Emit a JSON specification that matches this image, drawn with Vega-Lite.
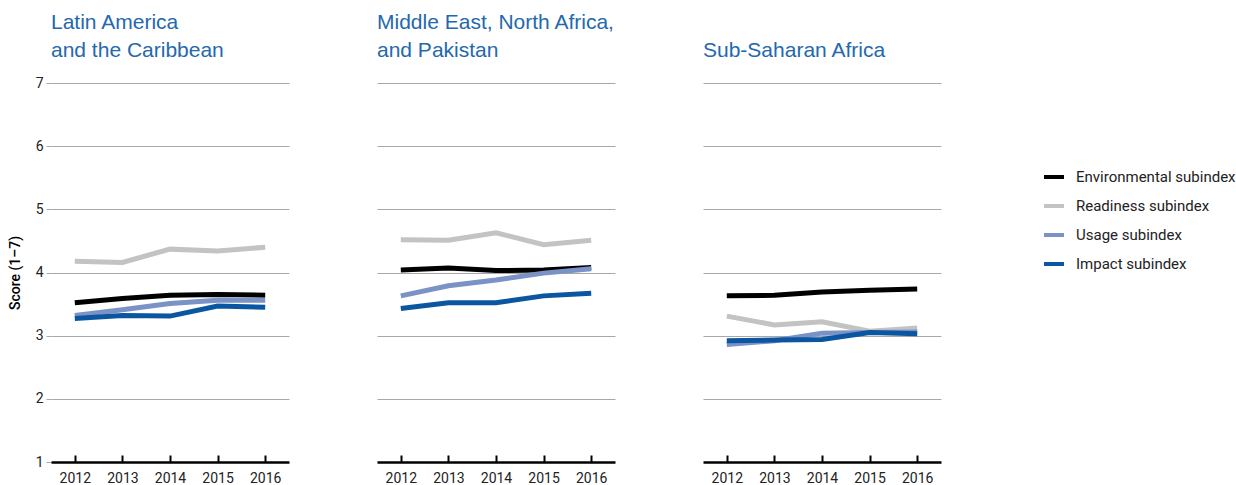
{
  "$schema": "https://vega.github.io/schema/vega-lite/v6.json",
  "padding": {"left": 8, "top": 12, "right": 5, "bottom": 2},
  "config": {
    "view": {"stroke": null},
    "font": "Roboto",
    "facet": {"spacing": 88}
  },
  "data": {
    "values": [
      {"region": "Latin America|and the Caribbean", "series": "Environmental subindex", "year": "2012", "value": 3.52},
      {"region": "Latin America|and the Caribbean", "series": "Environmental subindex", "year": "2013", "value": 3.59},
      {"region": "Latin America|and the Caribbean", "series": "Environmental subindex", "year": "2014", "value": 3.64},
      {"region": "Latin America|and the Caribbean", "series": "Environmental subindex", "year": "2015", "value": 3.65},
      {"region": "Latin America|and the Caribbean", "series": "Environmental subindex", "year": "2016", "value": 3.64},
      {"region": "Latin America|and the Caribbean", "series": "Readiness subindex", "year": "2012", "value": 4.18},
      {"region": "Latin America|and the Caribbean", "series": "Readiness subindex", "year": "2013", "value": 4.16},
      {"region": "Latin America|and the Caribbean", "series": "Readiness subindex", "year": "2014", "value": 4.37},
      {"region": "Latin America|and the Caribbean", "series": "Readiness subindex", "year": "2015", "value": 4.34},
      {"region": "Latin America|and the Caribbean", "series": "Readiness subindex", "year": "2016", "value": 4.40},
      {"region": "Latin America|and the Caribbean", "series": "Usage subindex", "year": "2012", "value": 3.32},
      {"region": "Latin America|and the Caribbean", "series": "Usage subindex", "year": "2013", "value": 3.41},
      {"region": "Latin America|and the Caribbean", "series": "Usage subindex", "year": "2014", "value": 3.51},
      {"region": "Latin America|and the Caribbean", "series": "Usage subindex", "year": "2015", "value": 3.56},
      {"region": "Latin America|and the Caribbean", "series": "Usage subindex", "year": "2016", "value": 3.56},
      {"region": "Latin America|and the Caribbean", "series": "Impact subindex", "year": "2012", "value": 3.27},
      {"region": "Latin America|and the Caribbean", "series": "Impact subindex", "year": "2013", "value": 3.32},
      {"region": "Latin America|and the Caribbean", "series": "Impact subindex", "year": "2014", "value": 3.31},
      {"region": "Latin America|and the Caribbean", "series": "Impact subindex", "year": "2015", "value": 3.47},
      {"region": "Latin America|and the Caribbean", "series": "Impact subindex", "year": "2016", "value": 3.45},
      {"region": "Middle East, North Africa,|and Pakistan", "series": "Environmental subindex", "year": "2012", "value": 4.04},
      {"region": "Middle East, North Africa,|and Pakistan", "series": "Environmental subindex", "year": "2013", "value": 4.07},
      {"region": "Middle East, North Africa,|and Pakistan", "series": "Environmental subindex", "year": "2014", "value": 4.03},
      {"region": "Middle East, North Africa,|and Pakistan", "series": "Environmental subindex", "year": "2015", "value": 4.04},
      {"region": "Middle East, North Africa,|and Pakistan", "series": "Environmental subindex", "year": "2016", "value": 4.08},
      {"region": "Middle East, North Africa,|and Pakistan", "series": "Readiness subindex", "year": "2012", "value": 4.52},
      {"region": "Middle East, North Africa,|and Pakistan", "series": "Readiness subindex", "year": "2013", "value": 4.51},
      {"region": "Middle East, North Africa,|and Pakistan", "series": "Readiness subindex", "year": "2014", "value": 4.63},
      {"region": "Middle East, North Africa,|and Pakistan", "series": "Readiness subindex", "year": "2015", "value": 4.44},
      {"region": "Middle East, North Africa,|and Pakistan", "series": "Readiness subindex", "year": "2016", "value": 4.51},
      {"region": "Middle East, North Africa,|and Pakistan", "series": "Usage subindex", "year": "2012", "value": 3.63},
      {"region": "Middle East, North Africa,|and Pakistan", "series": "Usage subindex", "year": "2013", "value": 3.79},
      {"region": "Middle East, North Africa,|and Pakistan", "series": "Usage subindex", "year": "2014", "value": 3.88},
      {"region": "Middle East, North Africa,|and Pakistan", "series": "Usage subindex", "year": "2015", "value": 3.99},
      {"region": "Middle East, North Africa,|and Pakistan", "series": "Usage subindex", "year": "2016", "value": 4.06},
      {"region": "Middle East, North Africa,|and Pakistan", "series": "Impact subindex", "year": "2012", "value": 3.43},
      {"region": "Middle East, North Africa,|and Pakistan", "series": "Impact subindex", "year": "2013", "value": 3.52},
      {"region": "Middle East, North Africa,|and Pakistan", "series": "Impact subindex", "year": "2014", "value": 3.52},
      {"region": "Middle East, North Africa,|and Pakistan", "series": "Impact subindex", "year": "2015", "value": 3.63},
      {"region": "Middle East, North Africa,|and Pakistan", "series": "Impact subindex", "year": "2016", "value": 3.67},
      {"region": "Sub-Saharan Africa", "series": "Environmental subindex", "year": "2012", "value": 3.63},
      {"region": "Sub-Saharan Africa", "series": "Environmental subindex", "year": "2013", "value": 3.64},
      {"region": "Sub-Saharan Africa", "series": "Environmental subindex", "year": "2014", "value": 3.69},
      {"region": "Sub-Saharan Africa", "series": "Environmental subindex", "year": "2015", "value": 3.72},
      {"region": "Sub-Saharan Africa", "series": "Environmental subindex", "year": "2016", "value": 3.74},
      {"region": "Sub-Saharan Africa", "series": "Readiness subindex", "year": "2012", "value": 3.31},
      {"region": "Sub-Saharan Africa", "series": "Readiness subindex", "year": "2013", "value": 3.17},
      {"region": "Sub-Saharan Africa", "series": "Readiness subindex", "year": "2014", "value": 3.22},
      {"region": "Sub-Saharan Africa", "series": "Readiness subindex", "year": "2015", "value": 3.07},
      {"region": "Sub-Saharan Africa", "series": "Readiness subindex", "year": "2016", "value": 3.12},
      {"region": "Sub-Saharan Africa", "series": "Usage subindex", "year": "2012", "value": 2.86},
      {"region": "Sub-Saharan Africa", "series": "Usage subindex", "year": "2013", "value": 2.92},
      {"region": "Sub-Saharan Africa", "series": "Usage subindex", "year": "2014", "value": 3.04},
      {"region": "Sub-Saharan Africa", "series": "Usage subindex", "year": "2015", "value": 3.05},
      {"region": "Sub-Saharan Africa", "series": "Usage subindex", "year": "2016", "value": 3.06},
      {"region": "Sub-Saharan Africa", "series": "Impact subindex", "year": "2012", "value": 2.92},
      {"region": "Sub-Saharan Africa", "series": "Impact subindex", "year": "2013", "value": 2.93},
      {"region": "Sub-Saharan Africa", "series": "Impact subindex", "year": "2014", "value": 2.94},
      {"region": "Sub-Saharan Africa", "series": "Impact subindex", "year": "2015", "value": 3.05},
      {"region": "Sub-Saharan Africa", "series": "Impact subindex", "year": "2016", "value": 3.03}
    ]
  },
  "facet": {
    "column": {
      "field": "region",
      "type": "nominal",
      "sort": ["Latin America|and the Caribbean", "Middle East, North Africa,|and Pakistan", "Sub-Saharan Africa"],
      "header": {
        "title": null,
        "labelExpr": "split(datum.value, '|')",
        "labelAnchor": "start",
        "labelAlign": "left",
        "labelBaseline": "bottom",
        "labelFont": "Liberation Sans",
        "labelFontSize": 21,
        "labelLineHeight": 28,
        "labelColor": "#2468ae",
        "labelPadding": 1
      }
    }
  },
  "spec": {
    "width": 238,
    "height": 379,
    "mark": {"type": "line", "strokeWidth": 5, "strokeCap": "butt", "strokeJoin": "miter"},
    "encoding": {
      "x": {
        "field": "year",
        "type": "ordinal",
        "scale": {"type": "point", "padding": 0.5},
        "axis": {
          "title": null,
          "labelAngle": 0,
          "offset": -7,
          "domain": false,
          "tickColor": "#000000",
          "tickWidth": 2,
          "tickSize": 7,
          "labelPadding": 9,
          "labelFontSize": 14,
          "labelColor": "#222222"
        }
      },
      "y": {
        "field": "value",
        "type": "quantitative",
        "scale": {"domain": [1, 7], "nice": false, "zero": false},
        "axis": {
          "title": "Score (1–7)",
          "titleFontSize": 14,
          "titleFontWeight": 500,
          "titleColor": "#000000",
          "titlePadding": 13,
          "values": [1, 2, 3, 4, 5, 6, 7],
          "domain": false,
          "grid": true,
          "gridColor": {"condition": {"test": "datum.value === 1", "value": "#000000"}, "value": "#a8a8a8"},
          "gridWidth": {"condition": {"test": "datum.value === 1", "value": 2.5}, "value": 1},
          "tickColor": "#a8a8a8",
          "tickSize": 5,
          "labelPadding": 3,
          "labelFontSize": 14,
          "labelColor": "#222222"
        }
      },
      "color": {
        "field": "series",
        "type": "nominal",
        "sort": ["Environmental subindex", "Readiness subindex", "Usage subindex", "Impact subindex"],
        "scale": {
          "domain": ["Environmental subindex", "Readiness subindex", "Usage subindex", "Impact subindex"],
          "range": ["#000000", "#c3c3c3", "#7a92c6", "#0b56a0"]
        },
        "legend": {
          "title": null,
          "orient": "none",
          "legendX": 991,
          "legendY": 82,
          "symbolType": "stroke",
          "symbolStrokeWidth": 4,
          "symbolSize": 400,
          "labelFontSize": 15,
          "labelColor": "#222222",
          "labelOffset": 10,
          "rowPadding": 9
        }
      }
    }
  }
}
